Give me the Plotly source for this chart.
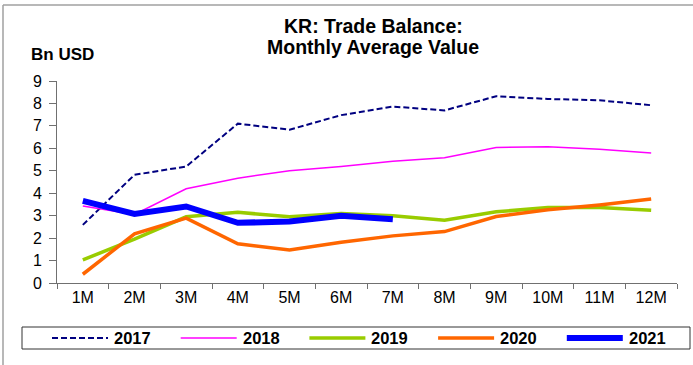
import plotly.graph_objects as go

# Monthly average trade balance, billions of USD
months = ["1M", "2M", "3M", "4M", "5M", "6M", "7M", "8M", "9M", "10M", "11M", "12M"]
y2017 = [2.59, 4.82, 5.19, 7.10, 6.83, 7.48, 7.86, 7.69, 8.32, 8.20, 8.14, 7.92]
y2018 = [3.43, 3.05, 4.20, 4.67, 5.00, 5.19, 5.42, 5.58, 6.04, 6.07, 5.96, 5.79]
y2019 = [1.03, 1.95, 2.95, 3.15, 2.95, 3.10, 3.00, 2.80, 3.17, 3.36, 3.36, 3.24]
y2020 = [0.39, 2.19, 2.89, 1.75, 1.47, 1.82, 2.10, 2.29, 2.96, 3.26, 3.48, 3.74]
y2021 = [3.66, 3.08, 3.41, 2.68, 2.74, 3.00, 2.84]

series = [
    ("2017", y2017, dict(color="#000080", width=2, dash="6px,3px")),
    ("2018", y2018, dict(color="#FF00FF", width=1.5)),
    ("2019", y2019, dict(color="#99CC00", width=3.5)),
    ("2020", y2020, dict(color="#FF6600", width=3.5)),
    ("2021", y2021, dict(color="#0000FF", width=6)),
]

FONT = "Liberation Sans, Arial, sans-serif"
W, H = 693, 365
# plot area in pixels: x 57..677, y 81..283
PX0, PW, PY0, PH = 57, 620, 283, 202


def px(x):
    return (x - PX0) / PW


def py(y):
    return (PY0 - y) / PH


fig = go.Figure()
for name, vals, style in series:
    fig.add_trace(go.Scatter(
        x=months[:len(vals)], y=vals, mode="lines", name=name,
        line=dict(**style), showlegend=False, hoverinfo="x+y+name",
    ))

# Hand-built legend box below the plot
shapes = []
annotations = []
shapes.append(dict(type="rect", xref="paper", yref="paper",
                   x0=px(22), x1=px(690), y0=py(349), y1=py(327),
                   line=dict(color="#333333", width=1), fillcolor="white", layer="below"))
entry_w = 128.7
for i, (name, vals, style) in enumerate(series):
    lx0 = 52 + i * entry_w
    lx1 = lx0 + 56
    ly = 338
    shapes.append(dict(type="line", xref="paper", yref="paper",
                       x0=px(lx0), x1=px(lx1), y0=py(ly), y1=py(ly),
                       line=dict(**style)))
    annotations.append(dict(xref="paper", yref="paper",
                            x=px(lx0 + 60), y=py(ly),
                            xanchor="left", yanchor="middle", showarrow=False,
                            text=f"<b>{name}</b>",
                            font=dict(family=FONT, size=16.5, color="black")))

# Outer frame (left and top edges)
shapes.append(dict(type="line", xref="paper", yref="paper",
                   x0=px(3), x1=px(3), y0=py(365), y1=py(5),
                   line=dict(color="#A0A0A0", width=1.5)))
shapes.append(dict(type="line", xref="paper", yref="paper",
                   x0=px(3), x1=px(693), y0=py(5), y1=py(5),
                   line=dict(color="#A0A0A0", width=1.5)))

# Title lines and unit label
for text, yc in [("KR: Trade Balance:", 26), ("Monthly Average Value", 47)]:
    annotations.append(dict(xref="paper", yref="paper", x=px(373), y=py(yc),
                            xanchor="center", yanchor="middle", showarrow=False,
                            text=f"<b>{text}</b>",
                            font=dict(family=FONT, size=19.5, color="black")))
annotations.append(dict(xref="paper", yref="paper", x=px(29), y=py(54),
                        xanchor="left", yanchor="middle", showarrow=False,
                        text="<b>Bn USD</b>",
                        font=dict(family=FONT, size=17, color="black")))

fig.update_layout(
    width=W, height=H,
    margin=dict(l=57, r=16, t=81, b=82),
    paper_bgcolor="white", plot_bgcolor="white",
    shapes=shapes, annotations=annotations,
    font=dict(family=FONT, color="black"),
)
fig.update_xaxes(
    type="category", categoryorder="array", categoryarray=months,
    range=[-0.5, 11.5], showgrid=False, zeroline=False,
    showline=True, linecolor="#707070", linewidth=1,
    ticks="outside", ticklen=5, tickcolor="#707070", tickson="boundaries",
    tickfont=dict(family=FONT, size=16, color="black"),
)
fig.update_yaxes(
    range=[0, 9], dtick=1, showgrid=False, zeroline=False,
    showline=True, linecolor="#707070", linewidth=1,
    ticks="outside", ticklen=7, tickcolor="#707070",
    ticklabelstandoff=4,
    tickfont=dict(family=FONT, size=16, color="black"),
)

fig.write_html("out.html")
